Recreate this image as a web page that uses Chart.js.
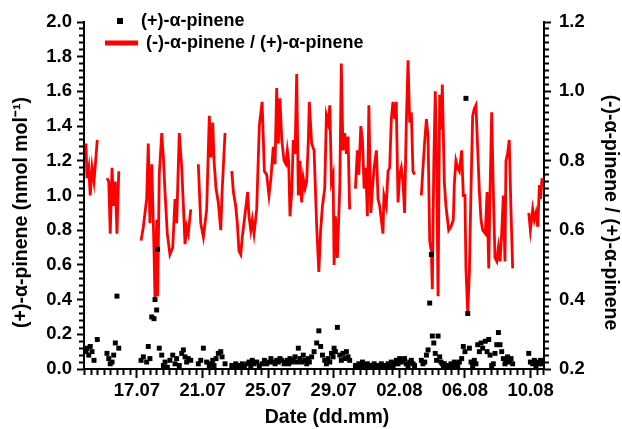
<!DOCTYPE html>
<html>
<head>
<meta charset="utf-8">
<script src="https://cdn.jsdelivr.net/npm/chart.js@4.4.0/dist/chart.umd.min.js"></script>
<style>
  html, body { margin: 0; padding: 0; background: #fff; }
</style>
</head>
<body>
<canvas id="chart" width="622" height="429"></canvas>
<script>
// time in days counted from 1 July (so 02.08 = 33); null rows break the line
const dates = [
  13.89, 13.95, 14.06, 14.15, 14.26, 14.38, 14.58, 14.9,
  15.17, 15.28, 15.37, 15.48, 15.58, 15.68, 15.78, 15.89, 16.5,
  17.25, 17.39, 17.59, 17.69, 17.79, 17.90, 18.04, 18.10, 18.20, 18.26, 18.36, 18.51, 18.61,
  18.71, 18.85, 19.01, 19.18, 19.32, 19.42, 19.58, 19.73, 19.83, 19.93, 20.03, 20.13, 20.28, 20.5,
  20.74, 20.89, 21.05, 21.25, 21.41, 21.51, 21.62, 21.70, 21.82, 21.96, 22.11, 22.19, 22.37, 22.6,
  22.78, 22.88, 23.02, 23.12, 23.22, 23.33, 23.42, 23.55, 23.75, 23.83, 23.94, 24.03, 24.14,
  24.30, 24.46, 24.63, 24.77, 24.91, 25.05, 25.17, 25.31, 25.42, 25.52, 25.62, 25.72, 25.83,
  25.97, 26.09, 26.17, 26.25, 26.33, 26.44, 26.53, 26.64, 26.74, 26.84, 26.94, 27.04, 27.14,
  27.25, 27.35, 27.45, 27.51, 27.65, 27.80, 27.96, 28.09, 28.20, 28.31, 28.45, 28.55, 28.65,
  28.76, 28.86, 28.96, 29.02, 29.10, 29.22, 29.37, 29.46, 29.56, 29.67, 29.77, 29.87, 29.97, 30.15,
  30.32, 30.44, 30.53, 30.65, 30.75, 30.85, 30.95, 31.05, 31.14, 31.26, 31.36, 31.46, 31.60,
  31.70, 31.80, 31.90, 32.00, 32.06, 32.20, 32.31, 32.41, 32.51, 32.61, 32.72, 32.81, 32.92,
  33.02, 33.12, 33.22, 33.32, 33.42, 33.53, 33.63, 33.73, 33.83, 33.93, 34.15,
  34.34, 34.44, 34.55, 34.65, 34.75, 34.85, 34.95, 35.01, 35.10, 35.19, 35.27, 35.36, 35.46,
  35.54, 35.62, 35.69, 35.74, 35.84, 36.01, 36.15, 36.29, 36.35, 36.45, 36.56, 36.66, 36.80,
  36.90, 37.00, 37.06, 37.17, 37.27, 37.37, 37.47, 37.57, 37.67, 37.78, 37.88, 37.98, 38.08,
  38.24, 38.35, 38.45, 38.53, 38.63, 38.73, 38.83, 38.94, 39.04, 39.14, 39.24, 39.34, 39.44,
  39.50, 39.60, 39.70, 39.81, 39.91, 40.4,
  40.89, 40.99, 41.13, 41.23, 41.33, 41.44, 41.54, 41.61, 41.70
];

// (+)-alpha-pinene, nmol/mol (left axis)
const pinene = [
  0.10, 0.12, 0.08, 0.13, 0.10, 0.05, 0.17, null,
  0.09, 0.06, 0.03, 0.04, 0.08, 0.15, 0.42, 0.12, null,
  0.05, 0.07, 0.04, 0.13, 0.06, 0.30, 0.29, 0.40, 0.34, 0.69, 0.12, 0.08, 0.02,
  0.04, 0.01, 0.05, 0.08, 0.03, 0.06, 0.02, 0.09, 0.11, 0.07, 0.04, 0.06, 0.05, null,
  0.03, 0.05, 0.12, 0.04, 0.02, 0.03, 0.05, 0.02, 0.06, 0.09, 0.10, 0.07, 0.03, null,
  0.02, 0.01, 0.03, 0.02, 0.01, 0.02, 0.03, 0.02, 0.03, 0.04, 0.02, 0.05, 0.03,
  0.04, 0.02, 0.03, 0.05, 0.03, 0.04, 0.06, 0.04, 0.03, 0.05, 0.04, 0.06, 0.05,
  0.03, 0.04, 0.05, 0.03, 0.06, 0.04, 0.05, 0.07, 0.04, 0.12, 0.06, 0.04, 0.08,
  0.05, 0.03, 0.06, 0.04, 0.07, 0.10, 0.15, 0.22, 0.13, 0.08, 0.05, 0.03, 0.06,
  0.04, 0.09, 0.07, 0.12, 0.10, 0.24, 0.08, 0.05, 0.09, 0.06, 0.10, 0.07, 0.05, null,
  0.02, 0.01, 0.03, 0.02, 0.04, 0.02, 0.01, 0.03, 0.02, 0.01, 0.02, 0.03, 0.02,
  0.01, 0.02, 0.03, 0.02, 0.01, 0.02, 0.03, 0.02, 0.04, 0.02, 0.03, 0.05, 0.03,
  0.06, 0.04, 0.05, 0.06, 0.03, 0.02, 0.04, 0.05, 0.03, 0.02, null,
  0.05, 0.03, 0.04, 0.08, 0.11, 0.38, 0.66, 0.19, 0.15, 0.09, 0.05, 0.19, 0.07,
  0.04, 0.03, 0.02, 0.03, 0.01, 0.02, 0.03, 0.02, 0.04, 0.03, 0.02, 0.04, 0.06,
  0.13, 0.10, 1.56, 0.32, 0.12, 0.04, 0.02, 0.05, 0.03, 0.14, 0.10, 0.15, 0.12,
  0.16, 0.10, 0.17, 0.08, 0.02, 0.03, 0.09, 0.14, 0.21, 0.14, 0.10, 0.06, 0.03,
  0.05, 0.07, 0.04, 0.06, 0.03, null,
  0.09, 0.04, 0.03, 0.05, 0.02, 0.04, 0.03, 0.05, 0.03
];

// (-)-alpha-pinene / (+)-alpha-pinene (right axis)
const ratio = [
  0.85, 0.75, 0.78, 0.70, 0.78, 0.74, 0.86, null,
  0.75, 0.74, 0.59, 0.78, 0.67, 0.74, 0.59, 0.77, null,
  0.57, 0.61, 0.69, 0.85, 0.62, 0.79, 0.54, 0.40, 0.63, 0.41, 0.76, 0.88, 0.81,
  0.71, 0.59, 0.53, 0.55, 0.69, 0.62, 0.88, 0.78, 0.67, 0.56, 0.61, 0.59, 0.66, null,
  0.79, 0.62, 0.58, 0.66, 0.93, 0.81, 0.91, 0.80, 0.72, 0.68, 0.60, 0.71, 0.88, null,
  0.77, 0.71, 0.67, 0.62, 0.54, 0.53, 0.58, 0.63, 0.71, 0.64, 0.60, 0.63, 0.59,
  0.66, 0.90, 0.97, 0.77, 0.76, 0.70, 0.75, 0.84, 0.79, 1.01, 0.85, 0.98, 0.86,
  0.80, 0.79, 0.83, 0.80, 0.64, 0.71, 0.86, 0.82, 1.05, 0.70, 0.80, 0.68, 0.75,
  0.72, 0.74, 0.86, 0.97, 0.85, 0.83, 0.61, 0.48, 0.60, 0.67, 0.72, 0.93, 0.91,
  0.96, 0.74, 0.76, 0.50, 0.64, 0.52, 0.73, 1.08, 0.83, 0.88, 0.82, 0.87, 0.66, null,
  0.72, 0.83, 0.76, 0.90, 0.86, 0.72, 0.78, 0.64, 0.96, 0.65, 0.72, 0.78, 0.83,
  0.69, 0.67, 0.63, 0.59, 0.70, 0.67, 0.77, 0.78, 0.92, 0.97, 0.92, 0.97, 0.68,
  0.76, 0.78, 0.74, 0.65, 0.90, 1.09, 0.91, 0.94, 0.77, 0.76, null,
  0.70, 0.78, 0.86, 0.92, 0.87, 0.57, 0.54, 0.43, 0.79, 1.00, 0.80, 0.41, 0.99,
  0.89, 1.02, 0.86, 0.74, 0.67, 0.60, 0.61, 0.63, 0.73, 0.80, 0.78, 0.77, 0.83,
  0.70, 0.70, 0.49, 0.36, 0.48, 0.72, 0.93, 0.95, 0.96, 0.83, 0.71, 0.63, 0.60,
  0.59, 0.71, 0.49, 0.71, 0.94, 0.71, 0.52, 0.51, 0.55, 0.51, 0.59, 0.70, 0.51,
  0.80, 0.82, 0.86, 0.65, 0.49, null,
  0.65, 0.60, 0.66, 0.63, 0.65, 0.61, 0.73, 0.69, 0.75
];

const seriesNames = ['(+)-\u03b1-pinene', '(-)-\u03b1-pinene / (+)-\u03b1-pinene'];
const leftTitle = '(+)-\u03b1-pinene (nmol mol\u207b\u00b9)';
const rightTitle = '(-)-\u03b1-pinene / (+)-\u03b1-pinene';
const bottomTitle = 'Date (dd.mm)';

const FONT = 'Arial, "Liberation Sans", sans-serif';
Chart.defaults.font.family = FONT;
Chart.defaults.font.size = 18.5;
Chart.defaults.font.weight = 'bold';
Chart.defaults.color = '#000';

function makeTicks(start, end, step) {
  const out = [];
  const n = Math.round((end - start) / step);
  for (let i = 0; i <= n; i++) out.push({ value: +(start + i * step).toFixed(4) });
  return out;
}
function isXMajor(v) {
  const k = (v - 17) / 4;
  return Math.abs(k - Math.round(k)) < 1e-6;
}
function dateLabel(v) {
  const d = Math.round(v);
  return d > 31 ? String(d - 31).padStart(2, '0') + '.08' : String(d).padStart(2, '0') + '.07';
}

// legend inside the plot, top left, and the three axis titles
const annotate = {
  id: 'annotate',
  afterDraw(chart) {
    const { ctx, chartArea: a } = chart;
    const x0 = a.left;
    const midY = (a.top + a.bottom) / 2 + 17;
    ctx.save();
    ctx.fillStyle = '#000';
    ctx.textBaseline = 'middle';

    ctx.font = 'bold 18px ' + FONT;
    ctx.fillRect(x0 + 33, 18, 6, 6);
    ctx.fillText(seriesNames[0], x0 + 57, 21);
    ctx.strokeStyle = '#ff0000';
    ctx.lineWidth = 5;
    ctx.beginPath();
    ctx.moveTo(x0 + 21, 43);
    ctx.lineTo(x0 + 54, 43);
    ctx.stroke();
    ctx.fillText(seriesNames[1], x0 + 62, 43);

    ctx.font = 'bold 19.5px ' + FONT;
    ctx.textAlign = 'center';
    ctx.fillText(bottomTitle, (a.left + a.right) / 2 + 13, 418);
    ctx.save();
    ctx.translate(22, midY);
    ctx.rotate(-Math.PI / 2);
    ctx.fillText(leftTitle, 0, 0);
    ctx.restore();
    ctx.save();
    ctx.translate(610, midY);
    ctx.rotate(Math.PI / 2);
    ctx.fillText(rightTitle, 0, 0);
    ctx.restore();
    ctx.restore();
  }
};

new Chart(document.getElementById('chart'), {
  type: 'line',
  data: {
    datasets: [
      {
        label: seriesNames[0],
        data: dates.map((d, i) => ({ x: d, y: pinene[i] })),
        yAxisID: 'y',
        showLine: false,
        pointStyle: 'rect',
        pointRadius: 3.5,
        pointBackgroundColor: '#000',
        pointBorderColor: '#000',
        pointBorderWidth: 0,
        order: 0
      },
      {
        label: seriesNames[1],
        data: dates.map((d, i) => ({ x: d, y: ratio[i] })),
        yAxisID: 'y2',
        borderColor: '#ff0000',
        borderWidth: 2.8,
        pointRadius: 0,
        spanGaps: false,
        tension: 0,
        order: 1
      }
    ]
  },
  options: {
    responsive: false,
    animation: false,
    layout: { padding: { top: 22, left: 0, right: 0, bottom: 0 } },
    plugins: { legend: { display: false }, tooltip: { enabled: false } },
    scales: {
      x: {
        type: 'linear',
        min: 13.77,
        max: 41.82,
        afterBuildTicks: s => { s.ticks = makeTicks(13.8, 41.8, 0.4); },
        afterFit: s => { s.height = 60; },
        border: { display: true, color: '#000', width: 2 },
        grid: {
          drawOnChartArea: false,
          tickLength: 9,
          tickWidth: 2,
          tickColor: '#000',
          tickBorderDash: c => (c.tick && isXMajor(c.tick.value)) ? [] : [5, 100]
        },
        ticks: {
          autoSkip: false,
          maxRotation: 0,
          padding: 2,
          callback: v => isXMajor(v) ? dateLabel(v) : ''
        }
      },
      y: {
        position: 'left',
        min: 0,
        max: 2,
        afterBuildTicks: s => { s.ticks = makeTicks(0, 2, 0.04); },
        afterFit: s => { s.width = 84; },
        border: { display: true, color: '#000', width: 2 },
        grid: {
          drawOnChartArea: false,
          tickLength: 7,
          tickWidth: 2,
          tickColor: '#000',
          tickBorderDash: c => (c.index % 5 === 0) ? [] : [0, 2, 4, 100]
        },
        ticks: {
          autoSkip: false,
          padding: 5,
          callback: (v, i) => i % 5 === 0 ? v.toFixed(1) : ''
        }
      },
      y2: {
        position: 'right',
        min: 0.2,
        max: 1.2,
        afterBuildTicks: s => { s.ticks = makeTicks(0.2, 1.2, 0.02); },
        afterFit: s => { s.width = 78; },
        border: { display: true, color: '#000', width: 2 },
        grid: {
          drawOnChartArea: false,
          tickLength: 7,
          tickWidth: 2,
          tickColor: '#000',
          tickBorderDash: c => (c.index % 10 === 0) ? [] : [4, 100]
        },
        ticks: {
          autoSkip: false,
          padding: 8,
          callback: (v, i) => i % 10 === 0 ? v.toFixed(1) : ''
        }
      }
    }
  },
  plugins: [annotate]
});
</script>
</body>
</html>
